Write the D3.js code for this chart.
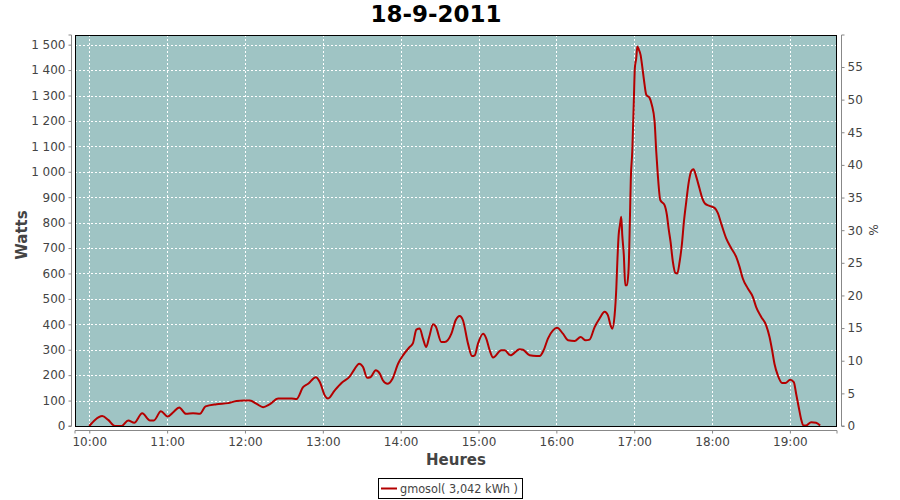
<!DOCTYPE html>
<html><head><meta charset="utf-8">
<script src="https://cdn.jsdelivr.net/npm/d3@7"></script>
<style>
body{margin:0;background:#fff;}
svg{display:block;font-family:"DejaVu Sans",sans-serif;}
</style></head>
<body><svg id="c" width="900" height="500"></svg>
<script>
// minutes after 10:00
const minutes = [0,4.4,10,14.6,19.8,25,30,34.7,40.8,46.8,49.8,55.2,60.4,64.7,69.3,74.5,80,85.3,89.6,98.1,107,113.5,119,123.8,129,134,139,145.6,156,159.7,164.8,168.7,174.6,177.7,181.5,184,189.2,194.4,200.8,204.6,208,211,214.1,216.7,220.8,223.9,226.4,229.8,233.7,238,241.8,247,249.5,252.1,254.7,257.2,259.7,262,265,267,271.4,273.9,279.1,282.4,285.5,288,291.9,295,297.1,299.6,303.5,306,308.6,311.2,317.6,320.2,324.6,331.7,334.3,339.4,344.6,347.1,350.2,353.5,357.4,360.5,365.1,369,374.1,378.7,382.6,385.6,389.5,393.3,397.2,399.7,401.8,403.1,404.9,406.2,407,408,409,410,410.8,412,413.1,414.4,415.7,416.7,417.4,418.5,419.7,420.5,421.6,422.4,423.6,424.9,426.2,427.5,429.3,431.9,433.6,435.7,437,438.2,440.1,443.4,445.2,446.5,448,449.8,451.7,453.2,455,456.7,458.3,460.1,462.1,464,465.7,467.8,470.3,472.5,474.5,478,481.9,484.5,487,490.9,494.8,498.6,501.2,503.7,507.6,511.4,514,517.9,521.7,524.3,526.3,528.1,530.7,534,536.6,540.2,543,544.8,546.8,548.6,550.4,552.5,556.4,560.2,563.3];
const watts = [0,24,39,24,0,0,22,13,50,22,22,58,37,54,73,48,50,48,77,86,90,98,100,100,87,74,85,108,108,106,153,166,192,173,120,108,140,169,195,225,245,232,190,192,219,206,179,166,186,245,278,311,326,379,384,344,311,350,400,392,330,330,363,416,433,416,324,275,278,324,363,344,298,269,298,298,278,302,300,278,275,275,298,344,376,386,363,337,334,350,337,340,389,423,449,436,396,383,436,541,646,751,790,823,751,672,554,554,620,817,975,1079,1276,1408,1448,1493,1480,1460,1414,1362,1303,1290,1263,1198,1079,987,889,869,830,777,725,646,602,600,646,712,803,882,961,1003,1010,981,935,895,875,866,858,837,797,738,699,665,626,580,541,508,468,429,396,350,298,245,199,169,169,182,173,127,74,28,2,2,15,13,2];
const hourTicks = ["10:00","11:00","12:00","13:00","14:00","15:00","16:00","17:00","18:00","19:00"];
const wattTicks = [0,100,200,300,400,500,600,700,800,900,1000,1100,1200,1300,1400,1500];
const pctTicks = [0,5,10,15,20,25,30,35,40,45,50,55];
const title = "18-9-2011";
const legendLabel = "gmosol( 3,042 kWh )";

const base = new Date(2011,8,18,10,0,0);
const toDate = m => new Date(base.getTime() + m*60000);
const parseHM = s => { const [h,mm] = s.split(":").map(Number); return new Date(2011,8,18,h,mm,0); };
const data = minutes.map((m,i)=>({t:toDate(m), v:watts[i]}));

const L=75, R=837, T=35, B=426;
const svg = d3.select("#c");
const x = d3.scaleTime().domain([toDate(-11), toDate(576.3)]).range([L,R]);
const y = d3.scaleLinear().domain([0,1538]).range([B,T]);
const y2 = d3.scaleLinear().domain([0,59.9]).range([B,T]);

const txt = "#444";
svg.append("rect").attr("x",L).attr("y",T).attr("width",R-L).attr("height",B-T).attr("fill","#9fc4c4");

// grid
const g = svg.append("g").attr("stroke","#fff").attr("stroke-width",1).attr("stroke-dasharray","2,2");
wattTicks.forEach(v=>{ g.append("line").attr("x1",L).attr("x2",R).attr("y1",Math.round(y(v))+0.5).attr("y2",Math.round(y(v))+0.5); });
hourTicks.forEach(h=>{ const px=Math.round(x(parseHM(h)))+0.5; g.append("line").attr("x1",px).attr("x2",px).attr("y1",T).attr("y2",B); });

// line
const line = d3.line().x(d=>x(d.t)).y(d=>y(d.v)).curve(d3.curveMonotoneX);
svg.append("path").datum(data).attr("d",line).attr("fill","none").attr("stroke","#b40000").attr("stroke-width",2).attr("stroke-linejoin","round");

// border
svg.append("rect").attr("x",L+0.5).attr("y",T+0.5).attr("width",R-L-1).attr("height",B-T).attr("fill","none").attr("stroke","#000").attr("stroke-width",1);

const fmt = v => d3.format(",")(v).replace(/,/g," ");
// left axis
const ya = d3.axisLeft(y).tickValues(wattTicks).tickFormat(fmt).tickSize(3).tickPadding(3);
const gy = svg.append("g").attr("transform","translate(71.5,0)").call(ya);
// right axis
const ya2 = d3.axisRight(y2).tickValues(pctTicks).tickSize(3).tickPadding(3);
const gy2 = svg.append("g").attr("transform","translate(841.5,0)").call(ya2);
// bottom axis
const xa = d3.axisBottom(x).tickValues(hourTicks.map(parseHM)).tickFormat(d3.timeFormat("%H:%M")).tickSize(3).tickPadding(4);
const gx = svg.append("g").attr("transform","translate(0,430.5)").call(xa);
[gy,gy2,gx].forEach(a=>{
  a.select(".domain").attr("stroke","#888");
  a.selectAll(".tick line").attr("stroke","#888");
  a.selectAll(".tick text").attr("fill",txt).style("font-size","12px").style("font-family","'DejaVu Sans',sans-serif");
});
gy.select(".domain").attr("d",`M-3,${T}H0V${B}H-3`);
gy2.select(".domain").attr("d",`M3,${T}H0V${B}H3`);
gx.select(".domain").attr("d",`M${L},3V0H${R}V3`);

// titles
svg.append("text").attr("x",436).attr("y",22).attr("text-anchor","middle").attr("fill","#000").style("font-size","23px").style("font-weight","bold").text(title);
svg.append("text").attr("transform","translate(27,235) rotate(-90)").attr("text-anchor","middle").attr("fill",txt).style("font-size","15px").style("font-weight","bold").text("Watts");
svg.append("text").attr("x",456).attr("y",465).attr("text-anchor","middle").attr("fill",txt).style("font-size","15px").style("font-weight","bold").text("Heures");
svg.append("text").attr("transform","translate(869,230) rotate(90)").attr("text-anchor","middle").attr("fill",txt).style("font-size","12px").text("%");

// legend
const lg = svg.append("g");
lg.append("rect").attr("x",378.5).attr("y",478.5).attr("width",144).attr("height",20).attr("fill","#fff").attr("stroke","#000");
lg.append("line").attr("x1",381).attr("x2",397).attr("y1",488.5).attr("y2",488.5).attr("stroke","#b40000").attr("stroke-width",2);
lg.append("text").attr("x",400).attr("y",493).attr("fill",txt).attr("textLength",118).attr("lengthAdjust","spacingAndGlyphs").style("font-size","12px").text(legendLabel);
</script></body></html>
